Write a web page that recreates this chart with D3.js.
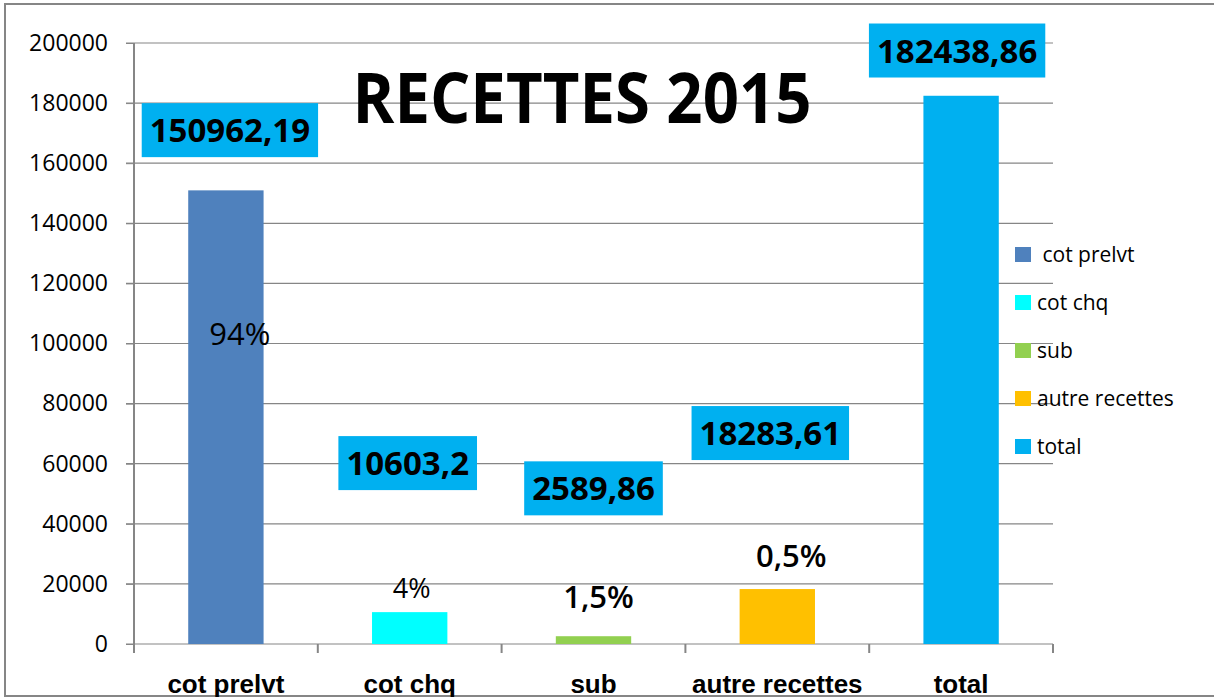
<html>
  <head>
    <meta charset="utf-8">
    <script src="https://d3js.org/d3.v7.min.js"></script>
    <style>
      body { margin: 0; background: #fff; }
    </style>
  </head>
  <body>
    <script>
      // data
      var categories = ["cot prelvt", "cot chq", "sub", "autre recettes", "total"]
      var legendNames = [" cot prelvt", "cot chq", "sub", "autre recettes", "total"]
      var values = [150962.19, 10603.2, 2589.86, 18283.61, 182438.86]
      var pctLabels = ["94%", "4%", "1,5%", "0,5%", ""]
      var colors = ["#4F81BD", "#00FFFF", "#92D050", "#FFC000", "#00B0F0"]
      var yTicks = [0, 20000, 40000, 60000, 80000, 100000, 120000, 140000, 160000, 180000, 200000]

      // hand placed labels (layout, in axis units + pixel nudges)
      var boxAt = [171000, 60200, 51800, 70200, 197500]
      var boxDx = [4, -2, 0, -7, -4]
      var pctAt = [99500, 15300, 12000, 25600, 0]
      var pctDx = [14, 2, 5, 14, 0]
      var pctSize = [31, 27, 31, 31, 31]
      var pctWeight = [400, 500, 600, 600, 400]

      var width = 1214
      var height = 697
      var plotL = 134, plotR = 1053, plotT = 43, plotB = 644
      var gray = "#868686"

      var svg = d3.select("body").append("svg")
      .attr("width", width)
      .attr("height", height)

      // outer frame
      svg.append("rect")
      .attr("x", 5).attr("y", 4)
      .attr("width", 1230).attr("height", 692)
      .attr("fill", "white")
      .style("stroke", gray)
      .style("stroke-width", 2)

      var x = d3.scaleBand().domain(categories).range([plotL, plotR])
      var y = d3.scaleLinear().domain([0, 200000]).range([plotB, plotT])

      // gridlines
      svg.selectAll(".grid").data(yTicks).enter().append("line")
      .attr("x1", plotL - 8).attr("x2", plotR)
      .attr("y1", d => y(d)).attr("y2", d => y(d))
      .style("stroke", gray).style("stroke-width", 1.2)

      // y axis
      var yAxis = svg.append("g")
      .attr("transform", "translate(" + plotL + ",0)")
      .call(d3.axisLeft(y).tickValues(yTicks).tickFormat(d3.format("d")).tickSize(8).tickPadding(18))
      yAxis.select(".domain").remove()
      yAxis.selectAll("line").style("stroke", gray)
      yAxis.selectAll("text")
      .style("font-family", "'Open Sans', sans-serif")
      .style("font-size", "23px")
      .style("fill", "#000")

      svg.append("line")
      .attr("x1", plotL).attr("x2", plotL)
      .attr("y1", plotT).attr("y2", plotB + 9)
      .style("stroke", gray).style("stroke-width", 2)

      // category boundary ticks
      svg.selectAll(".ctick").data(categories).enter().append("line")
      .attr("x1", d => x(d) + x.bandwidth()).attr("x2", d => x(d) + x.bandwidth())
      .attr("y1", plotB).attr("y2", plotB + 9)
      .style("stroke", gray).style("stroke-width", 2)

      // x axis labels
      var xAxis = svg.append("g")
      .attr("transform", "translate(0," + plotB + ")")
      .call(d3.axisBottom(x).tickSize(0))
      xAxis.select(".domain").remove()
      xAxis.selectAll("text")
      .attr("y", 49).attr("dy", 0)
      .style("font-family", "'Liberation Sans Narrow', 'Arial Narrow', 'Liberation Sans', sans-serif")
      .style("font-weight", "bold")
      .style("font-size", "26px")
      .style("fill", "#000")

      // bars
      var barW = x.bandwidth() * 0.41
      svg.selectAll(".bar").data(values).enter().append("rect")
      .attr("x", (d, i) => x(categories[i]) + x.bandwidth() / 2 - barW / 2)
      .attr("y", d => y(d))
      .attr("width", barW)
      .attr("height", d => plotB - y(d))
      .attr("fill", (d, i) => colors[i])

      // value boxes
      values.forEach(function(v, i) {
        var cx = x(categories[i]) + x.bandwidth() / 2 + boxDx[i]
        var cy = y(boxAt[i])
        var g = svg.append("g")
        var t = g.append("text")
        .attr("x", cx).attr("y", cy + 12)
        .attr("text-anchor", "middle")
        .style("font-family", "'Open Sans', sans-serif")
        .style("font-weight", "bold")
        .style("font-size", "33px")
        .text(String(v).replace(".", ","))
        var w = t.node().getComputedTextLength()
        g.insert("rect", "text")
        .attr("x", cx - w / 2 - 8).attr("y", cy - 27)
        .attr("width", w + 16).attr("height", 54)
        .attr("fill", "#00B0F0")
      })

      // percentage labels
      pctLabels.forEach(function(p, i) {
        if (!p) return
        svg.append("text")
        .attr("x", x(categories[i]) + x.bandwidth() / 2 + pctDx[i])
        .attr("y", y(pctAt[i]))
        .attr("text-anchor", "middle")
        .style("font-family", "'Open Sans', sans-serif")
        .style("font-size", pctSize[i] + "px")
        .style("font-weight", pctWeight[i])
        .text(p)
      })

      // title
      svg.append("text")
      .attr("x", 582).attr("y", 123)
      .attr("text-anchor", "middle")
      .attr("textLength", 459)
      .attr("lengthAdjust", "spacingAndGlyphs")
      .style("font-family", "'Open Sans', sans-serif")
      .style("font-weight", "bold")
      .style("font-size", "70px")
      .text("RECETTES 2015")

      // legend
      var legend = svg.selectAll(".leg").data(legendNames).enter().append("g")
      .attr("transform", (d, i) => "translate(1015," + (247 + i * 48) + ")")
      legend.append("rect")
      .attr("width", 16).attr("height", 15)
      .attr("fill", (d, i) => colors[i])
      legend.append("text")
      .attr("x", 22).attr("y", 15)
      .style("font-family", "'Open Sans', sans-serif")
      .style("font-size", "21px")
      .style("white-space", "pre")
      .attr("xml:space", "preserve")
      .text(d => d)
    </script>
  </body>
</html>
